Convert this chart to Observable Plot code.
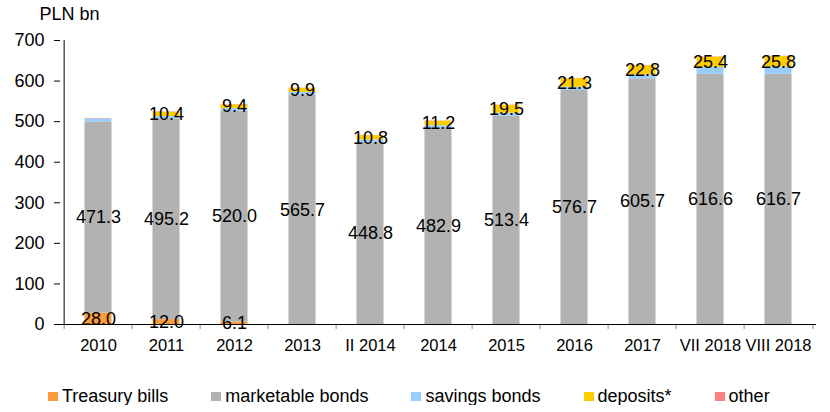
<!DOCTYPE html>
<html>
<head>
<meta charset="utf-8">
<script src="https://cdn.jsdelivr.net/npm/d3@7"></script>
<script src="https://cdn.jsdelivr.net/npm/@observablehq/plot@0.6"></script>
<style>
  body { margin: 0; background: white; font-family: "Liberation Sans", Arial, sans-serif; }
  #legend { display: flex; gap: 43px; padding-left: 48px; padding-top: 17px; font-size: 18px; line-height: 18px; color: #000; }
  .item { display: flex; align-items: center; gap: 4px; }
  .sw { width: 10px; height: 9px; display: inline-block; }
</style>
</head>
<body>
<div id="chart"></div>
<div id="legend"></div>
<script>
const categories = ["2010","2011","2012","2013","II 2014","2014","2015","2016","2017","VII 2018","VIII 2018"];
const series = ["Treasury bills","marketable bonds","savings bonds","deposits*","other"];
const colors = ["#F99B3A","#B2B2B2","#99CCFF","#FFCC00","#FF8080"];
const treasuryBills   = [28.0, 12.0, 6.1, 0, 0, 0, 0, 0, 0, 0, 0];
const marketableBonds = [471.3, 495.2, 520.0, 565.7, 448.8, 482.9, 513.4, 576.7, 605.7, 616.6, 616.7];
const savingsBonds    = [7.5, 5.5, 6.0, 6.5, 6.0, 7.0, 7.5, 8.0, 9.5, 17.0, 18.0];
const deposits        = [0, 10.4, 9.4, 9.9, 10.8, 11.2, 19.5, 21.3, 22.8, 25.4, 25.8];
const other           = [1.0, 1.0, 0.5, 0.5, 0.5, 0.5, 0.5, 0.5, 0.5, 0.8, 0.8];
const labeledSeries = [true, true, false, true, false];
const yTicks = [0, 100, 200, 300, 400, 500, 600, 700];

const values = [treasuryBills, marketableBonds, savingsBonds, deposits, other];
const rows = categories.flatMap((c, i) => series.map((s, j) => ({
  category: c, series: s, value: values[j][i],
  label: labeledSeries[j] && values[j][i] > 0 ? values[j][i].toFixed(1) : null
})));

const W = 830, ML = 60, MR = 14;
const bw = (W - ML - MR) / categories.length;

const chart = Plot.plot({
  width: W, height: 370,
  marginLeft: ML, marginRight: MR, marginTop: 40, marginBottom: 46,
  style: { fontFamily: "'Liberation Sans', Arial, sans-serif", fontSize: "18px", background: "white", color: "#000" },
  x: { domain: categories, padding: 0, label: null },
  y: { domain: [0, 700], label: null },
  color: { domain: series, range: colors },
  marks: [
    Plot.barY(rows, Plot.stackY({ x: "category", y: "value", fill: "series", insetLeft: 20.5, insetRight: 20.5 })),
    Plot.ruleX(categories, { x: d => d, dx: -bw / 2, y1: 0, y2: -12.3, stroke: "#888" }),
    Plot.ruleX([categories[categories.length - 1]], { x: d => d, dx: bw / 2, y1: 0, y2: -12.3, stroke: "#888" }),
    Plot.ruleX([categories[0]], { x: d => d, dx: -bw / 2, y1: 0, y2: 700, stroke: "#000" }),
    Plot.ruleY([0], { stroke: "#000" }),
    Plot.axisX({ tickSize: 0, tickPadding: 15, fontSize: 16.5, label: null }),
    Plot.axisY({ ticks: yTicks, tickSize: 6, tickPadding: 10, label: null }),
    Plot.text(rows, Plot.stackY({ x: "category", y: "value", z: "series", text: "label", fill: "#000" })),
    Plot.text(["PLN bn"], { frameAnchor: "top-left", dx: -21, dy: -26, textAnchor: "start", lineAnchor: "middle" })
  ]
});
document.getElementById("chart").append(chart);

const legend = document.getElementById("legend");
series.forEach((s, i) => {
  const item = document.createElement("span");
  item.className = "item";
  const sw = document.createElement("span");
  sw.className = "sw";
  sw.style.background = colors[i];
  item.append(sw, document.createTextNode(s));
  legend.append(item);
});
</script>
</body>
</html>
